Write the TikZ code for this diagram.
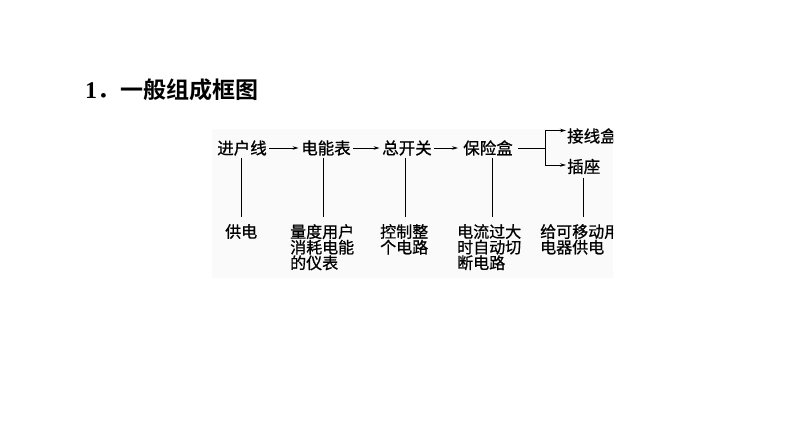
\documentclass[tikz,border=0pt]{standalone}
\usepackage{fontspec}
\setmainfont{Liberation Serif}
\newfontfamily\cjk[FakeBold=0.8]{Noto Sans CJK SC}
\newfontfamily\cjkb{Noto Sans CJK SC Bold}
\usetikzlibrary{arrows.meta}
\begin{document}
\begin{tikzpicture}[x=1pt,y=-1pt,
  mainbox/.style={inner xsep=2.5pt,inner ysep=2pt,font=\cjk\fontsize{16.5}{16.5}\selectfont},
  subbox/.style={anchor=north west,inner sep=0pt,align=left,font=\cjk\fontsize{16}{15.6}\selectfont},
  link/.style={line width=0.8pt,-{Stealth[length=6pt,width=3.5pt]}},
  stem/.style={line width=0.8pt}]
\useasboundingbox (0,0) rectangle (794,447);
\fill[white] (0,0) rectangle (794,447);
\node[anchor=west,inner sep=0pt] (title) at (85,90) {{\bfseries\fontsize{24}{24}\selectfont 1}{\cjkb\fontsize{23}{23}\selectfont ．一般组成框图}};
\begin{scope}
\clip (212,128.5) rectangle (613,278);
\fill[black!2] (212,128.5) rectangle (613,278);
\node[mainbox] (jhx) at (242,148) {进户线};
\node[mainbox] (dnb) at (326,148) {电能表};
\node[mainbox] (zkg) at (407,148) {总开关};
\node[mainbox,inner xsep=5pt] (bxh) at (488,148) {保险盒};
\node[mainbox,anchor=west,inner xsep=1pt] (jxh) at (566,136) {接线盒};
\node[mainbox,anchor=west,inner xsep=1pt] (cz) at (566,166.5) {插座};
\coordinate (br) at (545,148);
\draw[link] (jhx.east) -- (dnb.west);
\draw[link] (dnb.east) -- (zkg.west);
\draw[link] (zkg.east) -- (bxh.west);
\draw[stem] (bxh.east) -- (br);
\draw[link] (br) |- ([yshift=5.5pt]jxh.west);
\draw[link] (br) |- ([yshift=1.5pt]cz.west);
\node[subbox] (s1) at (225,224) {供电};
\node[subbox] (s2) at (290,224) {量度用户\\消耗电能\\的仪表};
\node[subbox] (s3) at (380,224) {控制整\\个电路};
\node[subbox] (s4) at (457,224) {电流过大\\时自动切\\断电路};
\node[subbox] (s5) at (540,224) {给可移动用\\电器供电};
\draw[stem] ([xshift=-1pt]jhx.south) -- ([xshift=-1pt]jhx.south |- 0,217);
\draw[stem] ([xshift=-3pt]dnb.south) -- ([xshift=-3pt]dnb.south |- 0,217);
\draw[stem] ([xshift=-2pt]zkg.south) -- ([xshift=-2pt]zkg.south |- 0,217);
\draw[stem] ([xshift=4pt]bxh.south) -- ([xshift=4pt]bxh.south |- 0,217);
\draw[stem] (583,178) -- (583,217);
\end{scope}
\end{tikzpicture}
\end{document}
